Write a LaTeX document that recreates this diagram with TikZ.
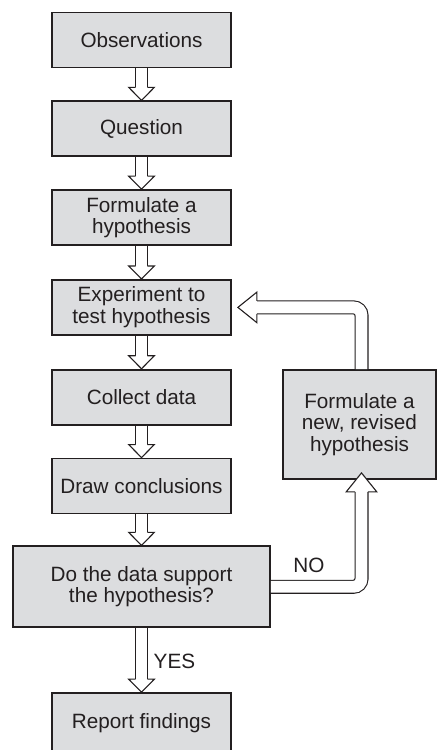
\documentclass[tikz,border=0pt]{standalone}
\usepackage{fontspec}
\setmainfont{Liberation Sans}
\usetikzlibrary{calc,positioning}
\definecolor{boxgray}{RGB}{220,221,223}
\definecolor{ink}{RGB}{35,31,32}

\begin{document}
\begin{tikzpicture}[x=1pt, y=1pt,
    stage/.style={rectangle, draw=ink, line width=1.8pt, fill=boxgray, text=ink,
    align=center, minimum width=179pt, minimum height=55pt, inner sep=2pt,
    font=\fontsize{20.7}{21.5}\selectfont},
    answer/.style={text=ink, inner sep=0pt, font=\fontsize{20.7}{21.5}\selectfont},
    shaft/.style={draw=ink, line width=1.1pt, double=white, double distance=10.6pt},
    loop shaft/.style={shaft, double distance=11.8pt, rounded corners=8pt},
    pics/small head/.style={code={
        \path[draw=ink, line width=1.1pt, fill=white]
        (-5.85,-13) -- (-12.8,-13) -- (0,0) -- (12.8,-13) -- (5.85,-13);}},
    pics/big head/.style={code={
        \path[draw=ink, line width=1.1pt, fill=white]
        (-6.45,-19) -- (-15.3,-19) -- (0,0) -- (15.3,-19) -- (6.45,-19);}},
    ]
    \useasboundingbox (0,0) rectangle (437,750);

    \node (obs) [stage] at (141.5,710) {Observations};
    \node (quest) [stage, below=32pt of obs] {Question};
    \node (form) [stage, below=32pt of quest] {Formulate a\\ hypothesis};
    \node (exper) [stage, below=33pt of form] {Experiment to\\ test hypothesis};
    \node (collect) [stage, below=33pt of exper] {Collect data};
    \node (concl) [stage, below=32pt of collect] {Draw conclusions};
    \node (decide) [stage, below=31pt of concl, minimum width=257pt, minimum height=81pt]
    {Do the data support\\ the hypothesis?};
    \node (report) [stage, below=64pt of decide, minimum height=60pt] {Report findings};

    \node (newhyp) [stage, minimum width=153pt, minimum height=109pt] at (359.5,325.5)
    {Formulate a\\ new, revised\\ hypothesis};

    \draw [shaft] (obs.south) -- ([yshift=13pt]quest.north);
    \pic [rotate=180] at (quest.north) {small head};
    \draw [shaft] (quest.south) -- ([yshift=13pt]form.north);
    \pic [rotate=180] at (form.north) {small head};
    \draw [shaft] (form.south) -- ([yshift=13pt]exper.north);
    \pic [rotate=180] at (exper.north) {small head};
    \draw [shaft] (exper.south) -- ([yshift=13pt]collect.north);
    \pic [rotate=180] at (collect.north) {small head};
    \draw [shaft] (collect.south) -- ([yshift=13pt]concl.north);
    \pic [rotate=180] at (concl.north) {small head};
    \draw [shaft] (concl.south) -- ([yshift=13pt]decide.north);
    \pic [rotate=180] at (decide.north) {small head};
    \draw [shaft] (decide.south) -- ([yshift=13pt]report.north);
    \pic [rotate=180] at (report.north) {small head};

    \draw [loop shaft] (decide.east) -| ([xshift=2pt, yshift=-12pt]newhyp.south);
    \pic at ([xshift=2pt, yshift=7pt]newhyp.south) {big head};
    \draw [loop shaft] ([xshift=2pt]newhyp.north) |- ([xshift=25pt]exper.east);
    \pic [rotate=90] at ([xshift=6pt]exper.east) {big head};

    \node (no) [answer, anchor=base] at ($(decide.east)+(38,14)$) {NO};
    \node (yes) [answer, anchor=base west] at ($(decide.south)+(12,-40)$) {YES};
\end{tikzpicture}
\end{document}
